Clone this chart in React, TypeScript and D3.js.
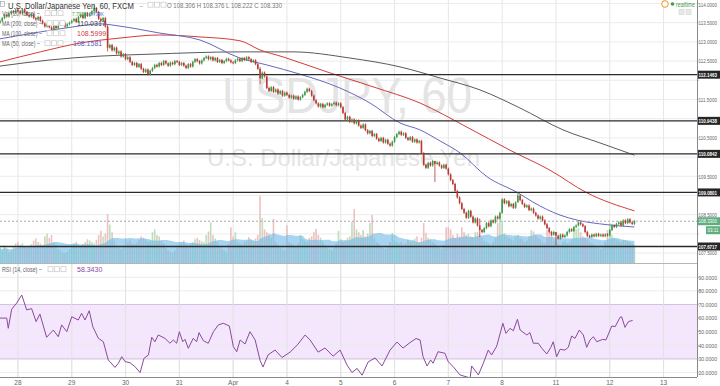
import React, { useEffect } from "react";
import * as d3 from "d3";

const W = 720;
const H = 386;
const AXIS_X = 697;
const MAIN_BOTTOM = 263;
const RSI_BOTTOM = 377;

const dayLabels = ["28", "29", "30", "31", "Apr", "4", "5", "6", "7", "8", "11", "12", "13"];
const dayStartBars = [8, 32, 56, 80, 104, 128, 152, 176, 200, 224, 248, 272, 296];

const firstOpen = 113.5;
const closes = [
  113.55, 113.62, 113.70, 113.66, 113.74, 113.80, 113.76, 113.84,
  113.80, 113.74, 113.85, 113.78, 113.70, 113.66, 113.72, 113.62, 113.58, 113.65, 113.55, 113.48, 113.40, 113.45, 113.38, 113.32, 113.42, 113.36, 113.45, 113.52, 113.48, 113.40, 113.46, 113.50,
  113.55, 113.60, 113.52, 113.65, 113.70, 113.62, 113.75, 113.68, 113.72, 113.80, 113.88, 113.78, 113.60, 113.55, 113.62, 113.40, 112.85, 112.92, 112.78, 112.85, 112.70, 112.75, 112.62, 112.68,
  112.55, 112.60, 112.48, 112.40, 112.45, 112.35, 112.42, 112.30, 112.22, 112.28, 112.15, 112.25, 112.32, 112.40, 112.36, 112.45, 112.40, 112.50, 112.44, 112.38, 112.46, 112.42, 112.50, 112.48,
  112.40, 112.45, 112.38, 112.32, 112.42, 112.36, 112.48, 112.55, 112.50, 112.44, 112.52, 112.58, 112.62, 112.55, 112.60, 112.52, 112.58, 112.48, 112.53, 112.45, 112.50, 112.56, 112.52, 112.47,
  112.45, 112.52, 112.56, 112.50, 112.58, 112.53, 112.60, 112.55, 112.48, 112.52, 112.42, 112.30, 112.05, 112.20, 112.10, 111.80, 111.72, 111.82, 111.70, 111.76, 111.65, 111.72, 111.60, 111.68,
  111.62, 111.55, 111.60, 111.52, 111.58, 111.50, 111.56, 111.62, 111.70, 111.78, 111.72, 111.60, 111.48, 111.40, 111.32, 111.38, 111.30, 111.36, 111.40, 111.34, 111.38, 111.42, 111.35, 111.40,
  111.30, 111.15, 110.98, 111.05, 110.92, 110.98, 110.88, 110.95, 110.82, 110.76, 110.85, 110.70, 110.62, 110.68, 110.55, 110.60, 110.48, 110.42, 110.50, 110.38, 110.45, 110.35, 110.30, 110.40,
  110.52, 110.60, 110.66, 110.58, 110.62, 110.50, 110.45, 110.52, 110.40, 110.46, 110.38, 110.42, 110.10, 109.80, 109.72, 109.85, 109.78, 109.90, 109.82, 109.86, 109.78, 109.72, 109.80, 109.70,
  109.55, 109.40, 109.30, 109.12, 108.95, 108.80, 108.65, 108.55, 108.42, 108.60, 108.45, 108.30, 108.40, 108.22, 108.10, 108.05, 108.15, 108.28, 108.20, 108.35, 108.30, 108.45, 108.40, 108.55,
  108.90, 108.80, 108.85, 108.72, 108.78, 108.68, 108.82, 109.00, 108.88, 108.78, 108.70, 108.74, 108.62, 108.66, 108.55, 108.48, 108.40, 108.45, 108.35, 108.25, 108.15, 108.05, 107.98, 108.05,
  107.95, 107.88, 107.98, 107.92, 107.96, 108.05, 108.12, 108.08, 108.18, 108.22, 108.30, 108.25, 108.20, 108.05, 107.95, 107.92, 107.98, 107.94, 108.00, 107.95, 107.98, 107.94, 107.99, 107.96,
  108.10, 108.22, 108.18, 108.26, 108.30, 108.22, 108.35, 108.28, 108.38, 108.30, 108.26, 108.33,
];

const wickBars = [42, 48, 116, 194, 214, 231, 248];
const wickHighs = [113.98, 113.45, 112.35, 109.88, 108.40, 109.08, 108.05];
const wickLows = [113.70, 112.75, 111.90, 109.35, 107.92, 108.85, 107.70];

const volumes = [
  22, 18, 25, 20, 15, 18, 24, 28,
  30, 26, 28, 24, 22, 25, 27, 32, 35, 30, 28, 26, 38, 42, 36, 40, 30, 26, 20, 18, 15, 14, 16, 20,
  26, 28, 30, 25, 24, 27, 30, 34, 32, 30, 28, 33, 40, 46, 38, 42, 70, 55, 44, 32, 25, 22, 20, 24,
  34, 30, 32, 28, 27, 29, 33, 38, 36, 34, 30, 32, 44, 48, 40, 38, 32, 28, 22, 18, 16, 15, 18, 22,
  28, 30, 32, 27, 25, 28, 30, 34, 36, 33, 31, 30, 40, 45, 58, 40, 35, 30, 24, 20, 18, 16, 28, 51,
  38, 44, 30, 28, 26, 30, 32, 37, 34, 32, 35, 40, 96, 64, 48, 44, 42, 36, 63, 30, 26, 22, 20, 18,
  54, 30, 28, 26, 24, 28, 40, 34, 32, 30, 36, 38, 44, 49, 40, 36, 30, 26, 22, 20, 18, 22, 28, 46,
  34, 30, 32, 36, 38, 59, 77, 48, 44, 40, 47, 38, 42, 57, 69, 36, 30, 28, 24, 22, 20, 24, 30, 43,
  32, 30, 28, 30, 26, 28, 33, 30, 32, 35, 38, 30, 36, 57, 43, 36, 34, 30, 28, 24, 22, 20, 26, 51,
  51, 48, 40, 36, 42, 38, 51, 44, 40, 42, 38, 36, 44, 44, 40, 36, 32, 30, 28, 26, 30, 36, 57, 66,
  60, 42, 38, 36, 34, 32, 38, 40, 36, 34, 30, 32, 38, 47, 45, 40, 36, 34, 30, 28, 47, 45, 40, 32,
  30, 28, 26, 30, 32, 28, 30, 34, 51, 48, 50, 44, 38, 36, 34, 30, 28, 26, 24, 22, 20, 22, 30, 47,
  57, 40, 36, 34, 32, 30, 33, 33, 32, 30, 28, 26,
];

const ma50Bars = [0, 18, 32.5, 44.6, 53.5, 71.3, 89.2, 107, 119, 133.8, 151.6, 165, 178.4, 187.3, 196.3, 205.2, 217.2, 231, 237.7, 249.8, 257.4, 270.8, 283];
const ma50Vals = [113.08, 113.26, 113.39, 113.47, 113.41, 113.23, 113.05, 112.58, 112.40, 112.16, 111.80, 111.41, 110.89, 110.71, 110.42, 110.11, 109.49, 109.07, 108.83, 108.49, 108.36, 108.24, 108.18];

const ma100Bars = [0, 18, 35.7, 53.5, 71.3, 89.2, 107, 116, 126.2, 145.8, 166.4, 187.3, 208.3, 227.5, 245.3, 261.8, 283];
const ma100Vals = [112.48, 112.74, 112.97, 113.10, 113.18, 113.13, 113.03, 112.79, 112.61, 112.22, 111.83, 111.41, 110.78, 110.18, 109.66, 109.07, 108.60];

const ma200Bars = [0, 22.3, 44.6, 66.9, 107, 130.7, 156.1, 178.4, 196.3, 214.1, 231.9, 251.1, 267.6, 283];
const ma200Vals = [112.37, 112.53, 112.63, 112.68, 112.74, 112.74, 112.58, 112.35, 112.06, 111.75, 111.28, 110.71, 110.37, 110.05];

const levels = [112.1463, 110.9438, 110.0842, 109.0801, 107.6717];
const priceTicks = [107.5, 108, 108.5, 109, 109.5, 110, 110.5, 111, 111.5, 112, 112.5, 113, 113.5, 114];
const rsiTicks = [20, 30, 40, 50, 60, 70, 80, 90];

const rsiBars = [
  0, 3.0, 3.7, 5.2, 7.4, 9.7, 11.9, 14.1, 16.1, 17.8, 20.8, 23.8, 26.0, 27.5, 29.8, 32.0, 34.9, 36.4, 37.9, 39.8, 41.4, 43.9, 46.1, 48.3, 51.3, 52.8, 54.3, 55.8, 58.0, 60.2, 62.5, 64.2, 66.2, 67.7, 69.1, 70.6, 73.6, 75.8, 77.3, 78.8, 80.0, 81.5, 82.5, 84.0, 86.2, 87.7, 88.8, 90.7, 92.9, 95.2, 97.4, 99.6, 102.3, 104.1, 105.6, 107.1,
  109.3, 111.5, 113.8, 116.0, 117.3, 119.6, 122.7, 125.8, 129.4, 132.5, 136.1, 138.3, 141.9, 145.0, 148.6, 151.7, 154.8, 157.0, 159.3, 161.5, 164.2, 167.3, 170.4, 174.0, 177.1, 179.8, 182.9, 185.6,
  187.4, 188.7, 190.5, 192.1, 193.2, 195.4, 198.5, 199.9, 202.1, 205.2, 209.7, 210.4, 213.4, 215.6, 217.8, 219.3, 221.6, 224.3, 225.7, 227.5, 229.0, 230.8, 232.0, 235.0, 236.4, 237.9, 240.1, 241.7, 243.9, 245.7, 246.8, 248.3, 249.8, 252.0, 253.5, 255.0, 256.5, 258.4, 260.2, 261.7, 263.2, 264.7, 266.2, 268.9, 270.3, 272.9, 274.4, 276.6, 277.3, 278.8, 280.3, 282.2,
];
const rsiVals = [
  60, 60, 52.5, 66.5, 71, 77, 66, 67, 57.4, 63, 45.9, 51.2, 46.3, 55, 50, 61, 58.6, 63.5, 58.6, 65.4, 53.7, 45.1, 42.6, 29.2, 23.8, 26.8, 31.6, 28, 27.2, 24.3, 19.9, 30.4, 32.9, 45.9, 42.6, 47.6, 45.1, 41.5, 43.9, 41.5, 50, 42.6, 44.4, 37.8, 45.1, 42.6, 49.3, 43.4, 41.5, 50, 55, 56.2, 54.2, 39, 35.3, 43.9,
  41, 50, 44, 29, 24, 33, 36.5, 31, 35, 40, 47.6, 44, 35, 38, 32, 36.5, 25.5, 20, 23, 18, 27.7, 30.7, 24.8, 36.5, 42.4, 38, 42, 45,
  43.9, 31.6, 24.8, 29.2, 26.8, 35.3, 34.1, 28, 24.4, 18.2, 16, 24.8, 18.2, 26.8, 36.5, 32.9, 39.5, 56.2, 48.8, 52.5, 50.7, 59.1, 51.2, 47.6, 49.3, 41.5, 41.5, 37.8, 33.6, 38.5, 42.6, 31.6, 37, 36.5, 38.5, 46.8, 45.1, 51.2, 47.6, 38.5, 43.9, 46.3, 42.6, 44.4, 43.9, 54.2, 53.7, 60.6, 61, 53.2, 57.4, 58.3,
];

const FONT = "Arial, 'Liberation Sans', sans-serif";
const UP = "#3f9a45";
const DOWN = "#b83a35";
const LBL_W = 18.5;

function Boxes({ x0, yc }: { x0: number; yc: number }) {
  return (
    <g>
      {[0, 1, 2].map((k) => (
        <rect key={k} x={x0 + k * 6.5} y={yc - 2.8} width={5} height={5} fill="#fff" stroke="#c8c8c8" strokeWidth={0.7} />
      ))}
    </g>
  );
}

export default function App() {
  useEffect(() => {
    document.body.style.margin = "0";
  }, []);

  const x = d3.scaleLinear().domain([0, 311]).range([0, 697.2]);
  const y = d3.scaleLinear().domain([107, 114]).range([272.3, 3.5]);
  const yv = d3.scaleLinear().domain([0, 100]).range([MAIN_BOTTOM, 193]);
  const yr = d3.scaleLinear().domain([20, 90]).range([372.5, 277.3]);

  const opens = closes.map((c, i) => (i === 0 ? firstOpen : closes[i - 1]));
  const candles = closes.map((c, i) => {
    const o = opens[i];
    const k = wickBars.indexOf(i);
    const hi = k >= 0 ? Math.max(wickHighs[k], o, c) : Math.max(o, c) + 0.03;
    const lo = k >= 0 ? Math.min(wickLows[k], o, c) : Math.min(o, c) - 0.03;
    return { i, o, c, hi, lo };
  });

  const volMA = volumes.map((v, i) => d3.mean(volumes.slice(Math.max(0, i - 19), i + 1)) as number);

  const maLine = (bars: number[], vals: number[]) =>
    d3.line<number>().x((_, i) => x(bars[i])).y((v) => y(v)).curve(d3.curveMonotoneX)(vals) || "";

  const volArea =
    d3
      .area<number>()
      .x((_, i) => x(i))
      .y0(MAIN_BOTTOM)
      .y1((v) => yv(v))
      .curve(d3.curveMonotoneX)(volMA) || "";

  const rsiPath = d3.line<number>().x((_, i) => x(rsiBars[i])).y((v) => yr(v))(rsiVals) || "";

  const last = closes[closes.length - 1];

  const boxYs = [...levels.map((p) => y(p)), y(last), y(last) + 9];
  const visibleTicks = priceTicks.filter((p) => boxYs.every((by) => Math.abs(by - y(p)) > 6));

  const axisText = (key: string, yy: number, s: string, fill = "#666", bold = false, xx = AXIS_X + 1.5, w = LBL_W) => (
    <text key={key} x={xx} y={yy + 2.2} fontSize={5.6} fill={fill} fontWeight={bold ? "bold" : "normal"} textLength={w} lengthAdjust="spacingAndGlyphs">
      {s}
    </text>
  );

  return (
    <svg width={W} height={H} style={{ position: "absolute", left: 0, top: 0, background: "#fff", fontFamily: FONT }}>
      <defs>
        <clipPath id="mainClip">
          <rect x={0} y={0} width={AXIS_X} height={MAIN_BOTTOM} />
        </clipPath>
        <clipPath id="rsiClip">
          <rect x={0} y={MAIN_BOTTOM + 1} width={AXIS_X} height={RSI_BOTTOM - MAIN_BOTTOM - 1} />
        </clipPath>
      </defs>

      {/* grid */}
      {dayStartBars.map((b, i) => (
        <line key={"vg" + i} x1={x(b)} x2={x(b)} y1={0} y2={RSI_BOTTOM} stroke="#e6e6e6" strokeWidth={1} />
      ))}
      {priceTicks.map((p) => (
        <line key={"hg" + p} x1={0} x2={AXIS_X} y1={y(p)} y2={y(p)} stroke="#ececec" strokeWidth={1} />
      ))}

      {/* watermark */}
      <text x={222} y={113} fontSize={50} fill="#e4e4e4" textLength={250} lengthAdjust="spacingAndGlyphs">USDJPY, 60</text>
      <text x={207} y={166} fontSize={24} fill="#e4e4e4" textLength={273} lengthAdjust="spacingAndGlyphs">U.S. Dollar/Japanese Yen</text>

      <g clipPath="url(#mainClip)">
        {volumes.map((v, i) => (
          <rect
            key={"v" + i}
            x={x(i) - 0.8}
            y={yv(v)}
            width={1.6}
            height={MAIN_BOTTOM - yv(v)}
            fill={closes[i] >= opens[i] ? "#a9d9a9" : "#e9b3b3"}
            opacity={0.8}
          />
        ))}
        <path d={volArea} fill="#6cb9e8" opacity={0.6} />

        <path d={maLine(ma200Bars, ma200Vals)} fill="none" stroke="#5a5a5a" strokeWidth={1} />
        <path d={maLine(ma100Bars, ma100Vals)} fill="none" stroke="#d23c3c" strokeWidth={1} />
        <path d={maLine(ma50Bars, ma50Vals)} fill="none" stroke="#6468bf" strokeWidth={1} />

        {levels.map((p) => (
          <line key={"lv" + p} x1={0} x2={AXIS_X} y1={y(p)} y2={y(p)} stroke="#2b2b2b" strokeWidth={1.3} />
        ))}

        <line x1={0} x2={AXIS_X} y1={y(last)} y2={y(last)} stroke="#a8a8a8" strokeWidth={1} strokeDasharray="2,2" />

        {candles.map((d) => {
          const col = d.c >= d.o ? UP : DOWN;
          const top = y(Math.max(d.o, d.c));
          const h = Math.max(1, Math.abs(y(d.o) - y(d.c)));
          return (
            <g key={"c" + d.i}>
              <line x1={x(d.i)} x2={x(d.i)} y1={y(d.hi)} y2={y(d.lo)} stroke={col} strokeWidth={0.8} />
              <rect x={x(d.i) - 0.8} y={top} width={1.6} height={h} fill={col} />
            </g>
          );
        })}
      </g>

      <line x1={0} x2={AXIS_X} y1={MAIN_BOTTOM + 0.5} y2={MAIN_BOTTOM + 0.5} stroke="#b5b5b5" strokeWidth={1} />

      {/* RSI pane */}
      <g clipPath="url(#rsiClip)">
        <rect x={0} y={yr(70)} width={AXIS_X} height={yr(30) - yr(70)} fill="#f4e6fc" />
        {rsiTicks.map((r) => (
          <line key={"rg" + r} x1={0} x2={AXIS_X} y1={yr(r)} y2={yr(r)} stroke="#ececec" strokeWidth={1} />
        ))}
        <line x1={0} x2={AXIS_X} y1={yr(70)} y2={yr(70)} stroke="#d2c2dc" strokeWidth={1} />
        <line x1={0} x2={AXIS_X} y1={yr(30)} y2={yr(30)} stroke="#d2c2dc" strokeWidth={1} />
        {dayStartBars.map((b, i) => (
          <line key={"rvg" + i} x1={x(b)} x2={x(b)} y1={MAIN_BOTTOM} y2={RSI_BOTTOM} stroke="#e2e2e2" strokeWidth={1} />
        ))}
        <path d={rsiPath} fill="none" stroke="#8a4a9c" strokeWidth={1} />
      </g>

      {/* axes */}
      <line x1={AXIS_X + 0.5} x2={AXIS_X + 0.5} y1={0} y2={RSI_BOTTOM} stroke="#8a8a8a" strokeWidth={1} />
      <line x1={0} x2={AXIS_X} y1={RSI_BOTTOM + 0.5} y2={RSI_BOTTOM + 0.5} stroke="#8a8a8a" strokeWidth={1} />

      {priceTicks.map((p) => (
        <line key={"ptl" + p} x1={AXIS_X} x2={AXIS_X + 1.5} y1={y(p)} y2={y(p)} stroke="#8a8a8a" />
      ))}
      {visibleTicks.map((p) => axisText("ptt" + p, Math.max(y(p), 4.5), p.toFixed(4)))}
      {rsiTicks.map((r) => (
        <g key={"rt" + r}>
          <line x1={AXIS_X} x2={AXIS_X + 1.5} y1={yr(r)} y2={yr(r)} stroke="#8a8a8a" />
          {axisText("rtt" + r, yr(r), r.toFixed(4))}
        </g>
      ))}
      {dayStartBars.map((b, i) => (
        <text key={"dl" + i} x={x(b)} y={385} fontSize={6.5} fill="#666" textAnchor="middle">{dayLabels[i]}</text>
      ))}

      {levels.map((p) => (
        <g key={"ll" + p}>
          <rect x={AXIS_X + 1} y={y(p) - 4} width={W - AXIS_X - 1} height={8} fill="#262626" />
          {axisText("llt" + p, y(p), p.toFixed(4), "#fff", true)}
        </g>
      ))}
      <rect x={AXIS_X + 1} y={y(last) - 4} width={W - AXIS_X - 1} height={8} fill="#5fae80" />
      {axisText("lastp", y(last), last.toFixed(4), "#fff")}
      <rect x={AXIS_X + 9} y={y(last) + 5} width={W - AXIS_X - 9} height={8} fill="#5fae80" />
      {axisText("cd", y(last) + 9, "03:11", "#fff", false, AXIS_X + 10.5, 11)}

      {/* header */}
      <rect x={0.5} y={1.5} width={4} height={5} fill="none" stroke="#999" strokeWidth={0.6} />
      <text x={8} y={8.5} fontSize={9} fill="#333" textLength={126} lengthAdjust="spacingAndGlyphs">U.S. Dollar/Japanese Yen, 60, FXCM</text>
      <text x={139.5} y={8} fontSize={6} fill="#999">~</text>
      <Boxes x0={148} yc={5} />
      <text x={167} y={8} fontSize={6.5} fill="#777" textLength={115} lengthAdjust="spacingAndGlyphs">O 108.306  H 108.376  L 108.222  C 108.330</text>

      <text x={2} y={16} fontSize={7} fill="#666" textLength={38} lengthAdjust="spacingAndGlyphs">Vol (20, false) ~</text>
      <Boxes x0={45} yc={13.5} />
      <text x={72} y={16} fontSize={6} fill="#3e9b48" textLength={15} lengthAdjust="spacingAndGlyphs">7.798K</text>
      <text x={89} y={16} fontSize={6} fill="#3a7fd5" textLength={15} lengthAdjust="spacingAndGlyphs">5.739K</text>

      <text x={2} y={26} fontSize={7} fill="#666" textLength={40} lengthAdjust="spacingAndGlyphs">MA (200, close) ~</text>
      <Boxes x0={47} yc={23.5} />
      <text x={77} y={26} fontSize={7} fill="#444">110.0317</text>

      <text x={2} y={36} fontSize={7} fill="#666" textLength={40} lengthAdjust="spacingAndGlyphs">MA (100, close) ~</text>
      <Boxes x0={47} yc={33.5} />
      <text x={77} y={36} fontSize={7} fill="#d23c3c">108.5999</text>

      <text x={2} y={46} fontSize={7} fill="#666" textLength={38} lengthAdjust="spacingAndGlyphs">MA (50, close) ~</text>
      <Boxes x0={45} yc={43.5} />
      <text x={73} y={46} fontSize={7} fill="#5a5fc0">108.1581</text>

      <text x={2} y={272} fontSize={7} fill="#666" textLength={40} lengthAdjust="spacingAndGlyphs">RSI (14, close) ~</text>
      <Boxes x0={48} yc={269.5} />
      <text x={77} y={272} fontSize={7} fill="#8a4a9c">58.3430</text>

      {/* realtime */}
      <circle cx={665} cy={4} r={3.3} fill="#fff" stroke="#f0961e" strokeWidth={1} />
      <circle cx={672.5} cy={4} r={1.8} fill="#3e9b48" />
      <text x={676} y={6.5} fontSize={6.5} fill="#3e9b48" textLength={19} lengthAdjust="spacingAndGlyphs">realtime</text>
      <rect x={679} y={9.5} width={5} height={5} fill="#e8e8e8" stroke="#ccc" strokeWidth={0.5} />
      <rect x={686} y={9.5} width={5} height={5} fill="#e8e8e8" stroke="#ccc" strokeWidth={0.5} />
    </svg>
  );
}
